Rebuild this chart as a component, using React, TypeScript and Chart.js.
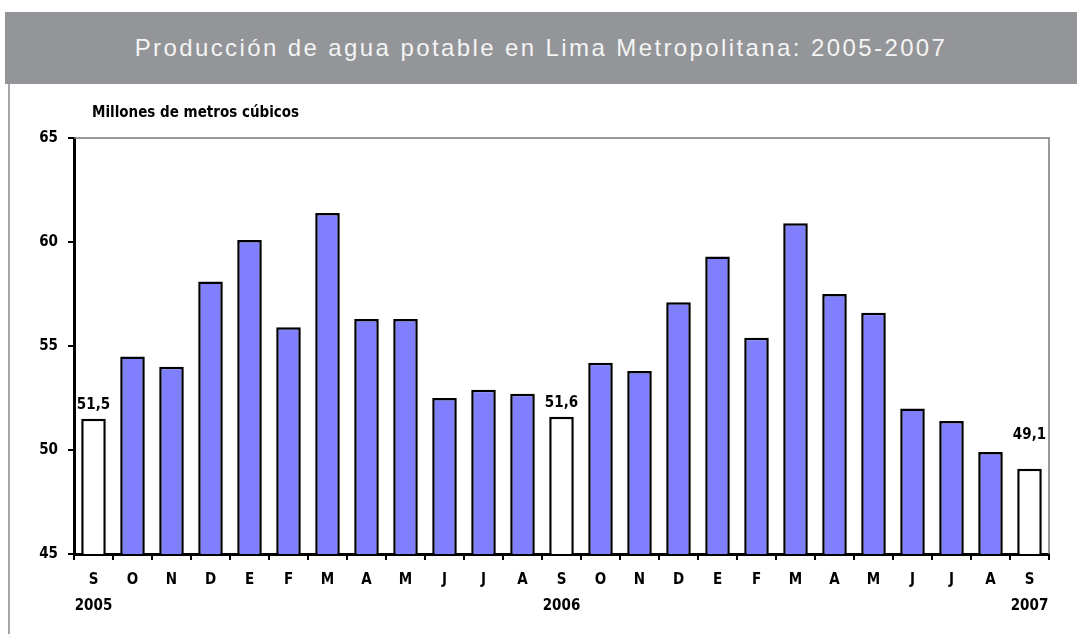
import React, { useEffect, useRef } from "react";
import { Chart, registerables } from "chart.js";

Chart.register(...registerables);

const months = ["S", "O", "N", "D", "E", "F", "M", "A", "M", "J", "J", "A", "S", "O", "N", "D", "E", "F", "M", "A", "M", "J", "J", "A", "S"];
const yearLabels = ["2005", "", "", "", "", "", "", "", "", "", "", "", "2006", "", "", "", "", "", "", "", "", "", "", "", "2007"];
const production = [51.5, 54.5, 54.0, 58.1, 60.1, 55.9, 61.4, 56.3, 56.3, 52.5, 52.9, 52.7, 51.6, 54.2, 53.8, 57.1, 59.3, 55.4, 60.9, 57.5, 56.6, 52.0, 51.4, 49.9, 49.1];
const yTicks = [45, 50, 55, 60, 65];

const TITLE = "Producción de agua potable en Lima Metropolitana: 2005-2007";
const UNIT = "Millones de metros cúbicos";
const NARROW = "'Liberation Sans Narrow', 'Arial Narrow', 'DejaVu Sans Condensed', sans-serif";

export default function App() {
  const ref = useRef<HTMLCanvasElement | null>(null);

  useEffect(() => {
    document.body.style.margin = "0";
    const canvas = ref.current;
    if (!canvas) return;
    const labels = months.map((m, i) => (yearLabels[i] ? [m, yearLabels[i]] : m));
    const highlighted = yearLabels.map((y) => y !== "");

    const decor = {
      id: "decor",
      afterDraw(chart: any) {
        const { ctx, chartArea } = chart;
        ctx.save();
        ctx.strokeStyle = "#7a7a7a";
        ctx.lineWidth = 1.5;
        ctx.beginPath();
        ctx.moveTo(chartArea.left, chartArea.top);
        ctx.lineTo(chartArea.right, chartArea.top);
        ctx.lineTo(chartArea.right, chartArea.bottom);
        ctx.stroke();
        ctx.fillStyle = "#000";
        ctx.font = `bold 15px ${NARROW}`;
        ctx.textAlign = "left";
        ctx.textBaseline = "middle";
        ctx.fillText(UNIT, 92, 113);
        const meta = chart.getDatasetMeta(0);
        ctx.textAlign = "center";
        ctx.textBaseline = "bottom";
        meta.data.forEach((bar: any, i: number) => {
          if (!highlighted[i]) return;
          const txt = production[i].toFixed(1).replace(".", ",");
          const lift = i === production.length - 1 ? 26 : 6;
          ctx.fillText(txt, bar.x, bar.y - lift);
        });
        ctx.restore();
      },
    };

    const chart = new Chart(canvas, {
      type: "bar",
      data: {
        labels,
        datasets: [
          {
            data: production,
            backgroundColor: highlighted.map((h) => (h ? "#ffffff" : "#8080ff")),
            borderColor: "#000000",
            borderWidth: 2.5,
            borderSkipped: false,
            barPercentage: 0.63,
            categoryPercentage: 1,
          },
        ],
      },
      options: {
        responsive: false,
        animation: false,
        layout: { padding: { top: 138, right: 28, bottom: 0, left: 0 } },
        plugins: { legend: { display: false }, tooltip: { enabled: false }, title: { display: false } },
        scales: {
          x: {
            grid: { display: true, drawOnChartArea: false, drawTicks: true, tickLength: 6, color: "#000", lineWidth: 2, offset: true },
            border: { display: true, color: "#000", width: 3 },
            ticks: {
              color: "#000",
              font: { family: NARROW, size: 15, weight: "bold", lineHeight: 1.75 },
              padding: 7,
              maxRotation: 0,
              autoSkip: false,
            },
            afterFit(scale: any) {
              scale.height = 80;
            },
          },
          y: {
            min: yTicks[0],
            max: yTicks[yTicks.length - 1],
            afterBuildTicks(scale: any) {
              scale.ticks = yTicks.map((v) => ({ value: v }));
            },
            grid: { display: true, drawOnChartArea: false, drawTicks: true, tickLength: 6, color: "#000", lineWidth: 2 },
            border: { display: true, color: "#000", width: 3 },
            ticks: {
              color: "#000",
              font: { family: NARROW, size: 15, weight: "bold" },
              padding: 10,
            },
            afterFit(scale: any) {
              scale.width = 74;
            },
          },
        },
      },
      plugins: [decor],
    });
    return () => chart.destroy();
  }, []);

  return (
    <div style={{ position: "relative", width: 1077, height: 634, background: "#fff", overflow: "hidden" }}>
      <div
        style={{
          position: "absolute",
          left: 5,
          top: 12,
          width: 1072,
          height: 72,
          background: "#939598",
          color: "#f4f4f4",
          fontFamily: "'Liberation Sans', Arial, sans-serif",
          fontSize: 24,
          letterSpacing: "2.4px",
          display: "flex",
          alignItems: "center",
          justifyContent: "center",
        }}
      >
        {TITLE}
      </div>
      <div style={{ position: "absolute", left: 8, top: 84, width: 2, height: 550, background: "#a6a6aa" }} />
      <canvas ref={ref} width={1077} height={634} style={{ position: "absolute", left: 0, top: 0, width: 1077, height: 634 }} />
    </div>
  );
}
